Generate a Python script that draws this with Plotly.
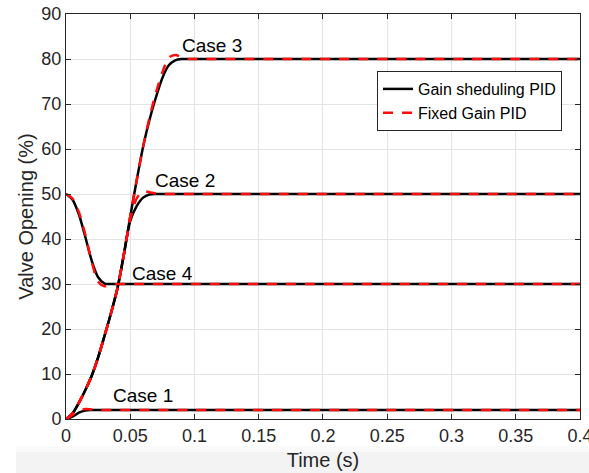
import plotly.graph_objects as go

# time samples (s)
t = [0, 0.005, 0.01, 0.015, 0.02, 0.025, 0.03, 0.035, 0.04, 0.045, 0.05,
     0.055, 0.06, 0.065, 0.07, 0.075, 0.08, 0.085, 0.09, 0.095, 0.1, 0.4]

# Gain scheduling PID (black)
gs_case1 = [0, 0.5, 1.4, 1.9, 2.0, 2.0, 2.0, 2.0, 2.0, 2.0, 2.0,
            2.0, 2.0, 2.0, 2.0, 2.0, 2.0, 2.0, 2.0, 2.0, 2.0, 2.0]
gs_case2 = [0, 1.2, 3.6, 6.4, 9.6, 13.7, 18.5, 23.5, 29.0, 36.5, 44.0,
            47.3, 49.2, 49.9, 50.0, 50.0, 50.0, 50.0, 50.0, 50.0, 50.0, 50.0]
gs_case3 = [0, 1.2, 3.6, 6.4, 9.6, 13.7, 18.5, 23.5, 29.0, 36.5, 45.0,
            53.0, 60.5, 66.5, 71.5, 75.8, 78.6, 79.7, 80.0, 80.0, 80.0, 80.0]
gs_case4 = [50, 48.8, 45.5, 40.5, 35.2, 31.5, 30.1, 30.0, 30.0, 30.0, 30.0,
            30.0, 30.0, 30.0, 30.0, 30.0, 30.0, 30.0, 30.0, 30.0, 30.0, 30.0]

# Fixed gain PID (red dashed)
fg_case1 = [0, 0.9, 1.8, 2.2, 2.1, 2.0, 2.0, 2.0, 2.0, 2.0, 2.0,
            2.0, 2.0, 2.0, 2.0, 2.0, 2.0, 2.0, 2.0, 2.0, 2.0, 2.0]
fg_case2 = [0, 1.2, 3.6, 6.4, 9.6, 13.7, 18.5, 23.5, 29.0, 36.5, 44.5,
            49.0, 50.6, 50.4, 50.1, 50.0, 50.0, 50.0, 50.0, 50.0, 50.0, 50.0]
fg_case3 = [0, 1.2, 3.6, 6.4, 9.6, 13.7, 18.5, 23.5, 29.0, 36.5, 45.0,
            53.0, 60.5, 67.0, 72.5, 77.0, 80.3, 80.9, 80.4, 80.0, 80.0, 80.0]
fg_case4 = [50, 49.0, 46.0, 41.0, 35.0, 30.5, 29.5, 29.7, 30.0, 30.0, 30.0,
            30.0, 30.0, 30.0, 30.0, 30.0, 30.0, 30.0, 30.0, 30.0, 30.0, 30.0]

labels = ["Case 1", "Case 2", "Case 3", "Case 4"]
label_x = [0.035, 0.068, 0.089, 0.05]
label_y = [5.3, 53.1, 83.1, 32.4]

x_ticks = [0, 0.05, 0.1, 0.15, 0.2, 0.25, 0.3, 0.35, 0.4]
x_tick_text = ["0", "0.05", "0.1", "0.15", "0.2", "0.25", "0.3", "0.35", "0.4"]
y_ticks = [0, 10, 20, 30, 40, 50, 60, 70, 80, 90]

FONT = "Liberation Sans, Arial, Helvetica, sans-serif"
AX = "#262626"

fig = go.Figure()
gs = [gs_case1, gs_case2, gs_case3, gs_case4]
fg = [fg_case1, fg_case2, fg_case3, fg_case4]
for i, y in enumerate(gs):
    fig.add_trace(go.Scatter(x=t, y=y, mode="lines",
                             line=dict(color="black", width=2.5, shape="spline", smoothing=0.8),
                             name="Gain sheduling PID",
                             showlegend=(i == 0)))
for i, y in enumerate(fg):
    fig.add_trace(go.Scatter(x=t, y=y, mode="lines",
                             line=dict(color="#ff0d0d", width=2.5, dash="10px,9px",
                                       shape="spline", smoothing=0.8),
                             name="Fixed Gain PID",
                             showlegend=(i == 0)))

for lab, lx, ly in zip(labels, label_x, label_y):
    fig.add_annotation(x=lx, y=ly, text=lab, showarrow=False, xanchor="left",
                       yanchor="middle", font=dict(family=FONT, size=19, color="black"))

# light gray band at the bottom of the screenshot
fig.add_shape(type="rect", xref="paper", yref="paper", layer="below",
              x0=(16 - 66) / 514, x1=(600 - 66) / 514,
              y0=(419 - 452) / 405, y1=(419 - 480) / 405,
              fillcolor="#f3f3f3", line=dict(width=0))
fig.add_shape(type="rect", xref="paper", yref="paper", layer="below",
              x0=(16 - 66) / 514, x1=(600 - 66) / 514,
              y0=(419 - 446) / 405, y1=(419 - 452) / 405,
              fillcolor="#fafafa", line=dict(width=0))

axis_common = dict(showline=True, linecolor=AX, linewidth=1, mirror="ticks",
                   ticks="inside", ticklen=5, tickcolor=AX,
                   showgrid=True, gridcolor="#e3e3e3", gridwidth=1,
                   zeroline=False, automargin=False, ticklabeloverflow="allow",
                   tickfont=dict(family=FONT, size=18, color=AX))

fig.update_xaxes(range=[0, 0.40001], tickvals=x_ticks, ticktext=x_tick_text,
                 title=dict(text="Time (s)", font=dict(family=FONT, size=20, color=AX), standoff=8),
                 **axis_common)
fig.update_yaxes(range=[0, 90], tickvals=y_ticks,
                 title=dict(text="Valve Opening (%)", font=dict(family=FONT, size=20, color=AX), standoff=2),
                 **axis_common)

fig.update_layout(
    width=589, height=473,
    margin=dict(l=66, r=9, t=14, b=54),
    paper_bgcolor="white", plot_bgcolor="white",
    font=dict(family=FONT, color=AX),
    legend=dict(x=(377 - 66) / 514, y=(419 - 71) / 405, xanchor="left", yanchor="top",
                bgcolor="white", bordercolor=AX, borderwidth=1,
                font=dict(family=FONT, size=16, color="black"),
                tracegroupgap=0, itemwidth=30),
    showlegend=True,
)

fig.write_html("out.html", config={"displayModeBar": False},
               post_script="document.body.style.margin='0';document.body.style.overflow='hidden';")
